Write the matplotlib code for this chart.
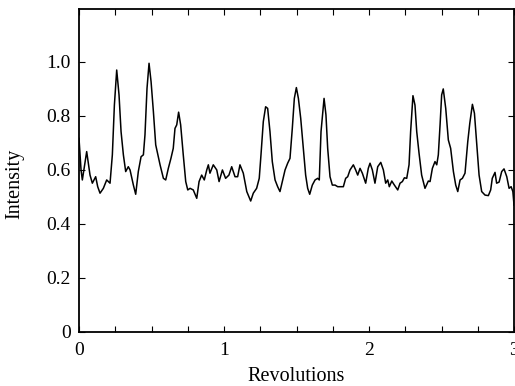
import matplotlib
matplotlib.use("Agg")
import matplotlib.pyplot as plt
from matplotlib.ticker import MultipleLocator, FuncFormatter

plt.rcParams['font.family'] = ['Liberation Serif', 'DejaVu Serif']

# trace (revolutions, intensity)
revs = [0.0, 0.014, 0.023, 0.053, 0.076, 0.092, 0.115, 0.129, 0.145, 0.168,
        0.191, 0.214, 0.23, 0.244, 0.26, 0.276, 0.29, 0.306, 0.322, 0.34,
        0.352, 0.375, 0.391, 0.409, 0.428, 0.444, 0.455, 0.469, 0.483, 0.497,
        0.513, 0.529, 0.559, 0.582, 0.598, 0.616, 0.634, 0.65, 0.662, 0.674,
        0.687, 0.701, 0.719, 0.736, 0.75, 0.766, 0.788, 0.812, 0.828, 0.846,
        0.864, 0.881, 0.892, 0.903, 0.926, 0.95, 0.966, 0.989, 1.011, 1.034,
        1.053, 1.076, 1.094, 1.11, 1.133, 1.157, 1.184, 1.202, 1.225, 1.243,
        1.255, 1.271, 1.287, 1.301, 1.317, 1.333, 1.352, 1.37, 1.386, 1.402,
        1.421, 1.439, 1.455, 1.471, 1.485, 1.499, 1.513, 1.529, 1.547, 1.563,
        1.577, 1.591, 1.609, 1.628, 1.646, 1.657, 1.669, 1.69, 1.703, 1.715,
        1.731, 1.747, 1.766, 1.784, 1.807, 1.823, 1.839, 1.853, 1.869, 1.892,
        1.908, 1.922, 1.938, 1.954, 1.977, 1.995, 2.007, 2.023, 2.041, 2.06,
        2.081, 2.099, 2.115, 2.129, 2.14, 2.157, 2.175, 2.198, 2.214, 2.23,
        2.244, 2.26, 2.276, 2.287, 2.303, 2.317, 2.329, 2.345, 2.363, 2.386,
        2.409, 2.421, 2.437, 2.455, 2.467, 2.478, 2.49, 2.501, 2.512, 2.529,
        2.547, 2.563, 2.582, 2.598, 2.612, 2.628, 2.644, 2.662, 2.681, 2.695,
        2.713, 2.727, 2.743, 2.759, 2.777, 2.8, 2.823, 2.839, 2.85, 2.869,
        2.88, 2.897, 2.915, 2.931, 2.95, 2.966, 2.98, 2.992, 3.0]
intensity = [0.717, 0.60, 0.563, 0.668, 0.581, 0.551, 0.575, 0.538, 0.514, 0.532,
             0.563, 0.551, 0.656, 0.84, 0.97, 0.878, 0.742, 0.656, 0.594, 0.612,
             0.60, 0.544, 0.51, 0.594, 0.649, 0.656, 0.73, 0.902, 0.995, 0.927,
             0.816, 0.693, 0.619, 0.569, 0.563, 0.606, 0.643, 0.68, 0.754, 0.767,
             0.814, 0.767, 0.656, 0.557, 0.526, 0.532, 0.526, 0.495, 0.557, 0.581,
             0.563, 0.60, 0.619, 0.588, 0.619, 0.60, 0.557, 0.60, 0.569, 0.581,
             0.612, 0.575, 0.575, 0.619, 0.588, 0.52, 0.485, 0.514, 0.532, 0.569,
             0.656, 0.779, 0.834, 0.828, 0.742, 0.631, 0.563, 0.538, 0.52, 0.557,
             0.60, 0.625, 0.643, 0.754, 0.865, 0.905, 0.865, 0.791, 0.68, 0.581,
             0.532, 0.51, 0.544, 0.563, 0.569, 0.563, 0.742, 0.865, 0.804, 0.68,
             0.575, 0.544, 0.544, 0.538, 0.538, 0.538, 0.569, 0.575, 0.60, 0.619,
             0.60, 0.581, 0.606, 0.588, 0.551, 0.606, 0.625, 0.60, 0.551, 0.612,
             0.628, 0.60, 0.551, 0.563, 0.538, 0.559, 0.544, 0.526, 0.551, 0.557,
             0.571, 0.569, 0.619, 0.742, 0.875, 0.84, 0.742, 0.662, 0.581, 0.532,
             0.559, 0.557, 0.606, 0.631, 0.619, 0.656, 0.767, 0.878, 0.90, 0.828,
             0.711, 0.68, 0.594, 0.544, 0.52, 0.563, 0.569, 0.588, 0.705, 0.773,
             0.843, 0.81, 0.693, 0.581, 0.52, 0.507, 0.505, 0.526, 0.569, 0.591,
             0.551, 0.555, 0.594, 0.604, 0.575, 0.532, 0.538, 0.52, 0.47]

fig = plt.figure(figsize=(5.15, 3.86), dpi=100)
ax = fig.add_axes([0.1534, 0.1399, 0.8447, 0.8368])
ax.plot(revs, intensity, color='black', lw=1.1)

ax.set_xlim(0, 3)
ax.set_ylim(0, 1.196)
ax.xaxis.set_major_locator(MultipleLocator(1))
ax.xaxis.set_minor_locator(MultipleLocator(0.25))
ax.yaxis.set_major_locator(MultipleLocator(0.2))
ax.yaxis.set_major_formatter(FuncFormatter(lambda v, p: '0' if abs(v) < 1e-9 else f'{v:.1f}'))
ax.xaxis.set_major_formatter(FuncFormatter(lambda v, p: f'{v:.0f}'))
ax.tick_params(which='both', direction='in', top=True, right=True, length=4, width=0.8,
               labelsize=14)
ax.tick_params(axis='x', pad=7)
ax.tick_params(axis='y', pad=6)
for s in ax.spines.values():
    s.set_linewidth(1.3)

ax.set_xlabel('Revolutions', fontsize=14.5, labelpad=6)
ax.set_ylabel('Intensity', fontsize=14.5, labelpad=8)
ax.yaxis.set_label_coords(-0.125, 0.46)

fig.savefig('out.png', dpi=100)
